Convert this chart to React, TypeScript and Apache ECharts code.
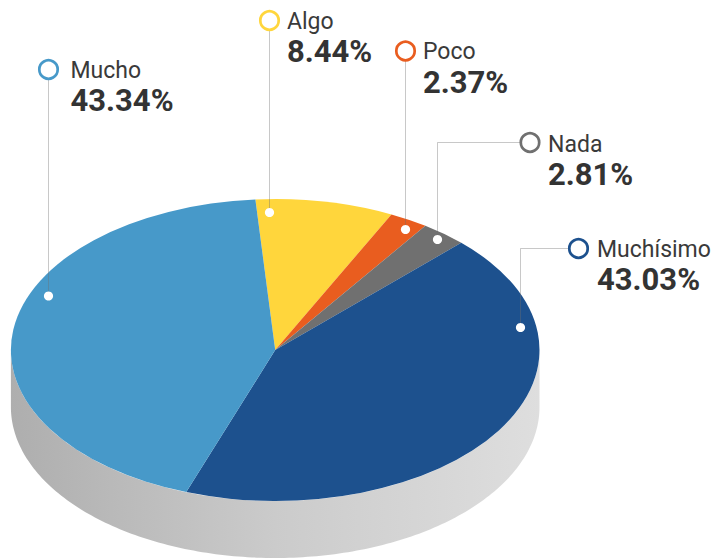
import React, { useEffect, useRef } from "react";
import * as echarts from "echarts";

const categories = ["Algo", "Poco", "Nada", "Muchísimo", "Mucho"];
const shares = [8.44, 2.37, 2.81, 43.03, 43.34];
const valueLabels = ["8.44%", "2.37%", "2.81%", "43.03%", "43.34%"];
const sliceColors = ["#FFD63C", "#E95D1F", "#707070", "#1D518E", "#4799C9"];

// Layout of the callouts: [ring x, ring y, dot x, dot y, text x, name baseline, value baseline]
const callouts = [
  [269.5, 20.5, 269.5, 212.5, 287, 30, 63],
  [405.5, 51, 405.5, 229.5, 423, 60, 94],
  [530, 142.5, 437.5, 239.5, 548, 152.5, 185.5],
  [578.5, 248.5, 520.5, 327.5, 597, 258, 291],
  [48.5, 69.5, 48.5, 296, 70.5, 79, 112],
];

const CX = 275.2, CY = 350, RX = 264.3, RY = 151, DEPTH = 57;
const START_DEG = -94.3;
const FONT = "Roboto, 'Noto Sans', sans-serif";
const NAME_SIZE = 23, VALUE_SIZE = 31;

function angleSpans() {
  const total = shares.reduce((a, b) => a + b, 0);
  let acc = START_DEG;
  return shares.map((s) => {
    const a0 = acc;
    acc += (s / total) * 360;
    return [a0, acc];
  });
}

function wallPoints() {
  const pts: number[][] = [];
  for (let d = 0; d <= 180; d += 1) {
    const t = (d * Math.PI) / 180;
    pts.push([CX + RX * Math.cos(t), CY + RY * Math.sin(t)]);
  }
  for (let d = 180; d >= 0; d -= 1) {
    const t = (d * Math.PI) / 180;
    pts.push([CX + RX * Math.cos(t), CY + DEPTH + RY * Math.sin(t)]);
  }
  return pts;
}

export default function App() {
  const ref = useRef<HTMLDivElement>(null);
  useEffect(() => {
    document.body.style.margin = "0";
    const chart = echarts.init(ref.current!, undefined, { renderer: "svg" });
    const spans = angleSpans();
    chart.setOption({
      animation: false,
      backgroundColor: "#ffffff",
      series: [
        {
          type: "custom",
          coordinateSystem: "none",
          silent: true,
          data: [[1]],
          renderItem: () => ({
            type: "polygon",
            shape: { points: wallPoints() },
            style: {
              fill: new echarts.graphic.LinearGradient(0, 0, 1, 0, [
                { offset: 0, color: "#AEAEAE" },
                { offset: 0.5, color: "#CBCBCB" },
                { offset: 1, color: "#DEDEDE" },
              ]),
            },
          }),
        },
        {
          type: "custom",
          coordinateSystem: "none",
          silent: true,
          data: categories.map((name, i) => ({
            name,
            value: [shares[i], spans[i][0], spans[i][1]],
          })),
          renderItem: (params: any, api: any) => ({
            type: "sector",
            x: CX,
            y: CY,
            scaleY: RY / RX,
            shape: {
              cx: 0,
              cy: 0,
              r0: 0,
              r: RX,
              startAngle: (api.value(1) * Math.PI) / 180,
              endAngle: (api.value(2) * Math.PI) / 180,
              clockwise: true,
            },
            style: { fill: sliceColors[params.dataIndex] },
          }),
        },
        {
          type: "custom",
          coordinateSystem: "none",
          silent: true,
          data: categories.map((name, i) => ({ name, value: [shares[i]] })),
          renderItem: (params: any) => {
            const i = params.dataIndex;
            const [rx, ry, dx, dy, tx, nameY, valueY] = callouts[i];
            const leader = rx === dx ? [[rx, ry], [dx, dy]] : [[rx, ry], [dx, ry], [dx, dy]];
            return {
              type: "group",
              children: [
                {
                  type: "polyline",
                  shape: { points: leader },
                  style: { stroke: "rgba(110,110,110,0.38)", lineWidth: 1, fill: "none" },
                },
                {
                  type: "circle",
                  shape: { cx: dx, cy: dy, r: 4.6 },
                  style: { fill: "#ffffff" },
                },
                {
                  type: "circle",
                  shape: { cx: rx, cy: ry, r: 9.2 },
                  style: { fill: "#ffffff", stroke: sliceColors[i], lineWidth: 2.7 },
                },
                {
                  type: "text",
                  x: tx,
                  y: nameY - NAME_SIZE * 0.86,
                  style: {
                    text: categories[i],
                    font: `400 ${NAME_SIZE}px ${FONT}`,
                    fill: "#3A3A3A",
                    align: "left",
                    verticalAlign: "top",
                  },
                },
                {
                  type: "text",
                  x: tx,
                  y: valueY - VALUE_SIZE * 0.86,
                  style: {
                    text: valueLabels[i],
                    font: `700 ${VALUE_SIZE}px ${FONT}`,
                    fill: "#333333",
                    align: "left",
                    verticalAlign: "top",
                  },
                },
              ],
            };
          },
        },
      ],
    });
    return () => chart.dispose();
  }, []);
  return <div ref={ref} style={{ width: 721, height: 558 }} />;
}
